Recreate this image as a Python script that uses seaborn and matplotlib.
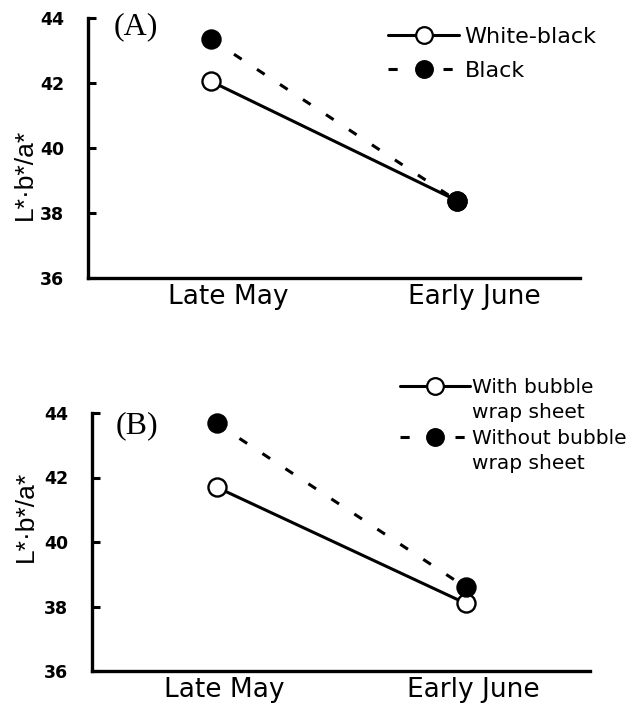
import matplotlib
matplotlib.use("Agg")
import matplotlib.pyplot as plt
import matplotlib.transforms as mtransforms
from matplotlib.lines import Line2D
import seaborn as sns
import pandas as pd

# ---- data ----
periods = ["Late May", "Early June"]
a_series = ["White-black", "Black"]
a_white_black = [42.05, 38.38]
a_black = [43.35, 38.38]
b_series = ["With bubble\nwrap sheet", "Without bubble\nwrap sheet"]
b_with = [41.7, 38.1]
b_without = [43.68, 38.6]
y_ticks = [36, 38, 40, 42, 44]

sns.set_theme(style="white")
plt.rcParams["font.family"] = ["DejaVu Sans"]
for k in ["text.color", "axes.labelcolor", "xtick.color", "ytick.color", "axes.edgecolor"]:
    plt.rcParams[k] = "black"

LW = 2.2
MS = 13
DASH = (0, (3, 6))

fig = plt.figure(figsize=(6.31, 7.07), dpi=100)
W, H = 631, 707

def add_ax(l, r, t, b):
    return fig.add_axes([l / W, 1 - b / H, (r - l) / W, (b - t) / H])

axA = add_ax(88, 580, 18, 278)
axB = add_ax(92, 590, 413, 671)

def draw(ax, vals_open, vals_filled):
    x = list(range(len(periods)))
    d1 = pd.DataFrame({"pos": x, "val": vals_open})
    d2 = pd.DataFrame({"pos": x, "val": vals_filled})
    sns.lineplot(data=d1, x="pos", y="val", ax=ax, color="black", lw=LW,
                 marker="o", markersize=MS, legend=False, zorder=3)
    l1 = ax.lines[-1]
    l1.set_markerfacecolor("white"); l1.set_markeredgecolor("black")
    l1.set_markeredgewidth(1.7)
    sns.lineplot(data=d2, x="pos", y="val", ax=ax, color="black", lw=LW,
                 marker="o", markersize=MS, legend=False, zorder=4)
    l2 = ax.lines[-1]
    l2.set_linestyle(DASH)
    l2.set_markerfacecolor("black"); l2.set_markeredgecolor("black")
    l2.set_markeredgewidth(1.7)

def style(ax, xoff_px, ylab_y, ylab_x):
    ax.set_xlim(-0.5, 1.5)
    ax.set_ylim(36, 44)
    ax.set_yticks(y_ticks)
    ax.set_yticklabels([str(v) for v in y_ticks], fontsize=12.5, fontweight="bold")
    ax.set_xticks(range(len(periods)))
    ax.set_xticklabels(periods, fontsize=19)
    ax.set_xticks([0.5, 1.5], minor=True)
    ax.tick_params(axis="x", which="major", length=0, pad=4)
    ax.tick_params(axis="x", which="minor", direction="in", length=7, width=2.2,
                   color="black")
    ax.tick_params(axis="y", which="major", direction="in", length=6, width=2.2,
                   pad=17, color="black", left=True)
    for s in ["top", "right"]:
        ax.spines[s].set_visible(False)
    for s in ["left", "bottom"]:
        ax.spines[s].set_linewidth(2.4)
        ax.spines[s].set_color("black")
    ax.set_xlabel("")
    ax.set_ylabel("L*·b*/a*", fontsize=19,
                  family=["Liberation Sans", "DejaVu Sans"])
    ax.yaxis.set_label_coords(ylab_x, ylab_y)
    off = mtransforms.ScaledTranslation(xoff_px / 100, 0, fig.dpi_scale_trans)
    for lab in ax.get_xticklabels():
        lab.set_transform(lab.get_transform() + off)
    ax.grid(False)

draw(axA, a_white_black, a_black)
style(axA, 17, 0.40, -0.104)
axA.text(0.098, 0.965, "(A)", transform=axA.transAxes, ha="center", va="center",
         fontsize=23, family=["Liberation Serif", "DejaVu Serif"])

draw(axB, b_with, b_without)
style(axB, 8, 0.60, -0.108)
axB.text(0.09, 0.95, "(B)", transform=axB.transAxes, ha="center", va="center",
         fontsize=23, family=["Liberation Serif", "DejaVu Serif"])

def h_open():
    return Line2D([0], [0], color="black", lw=LW, marker="o", ms=MS - 1,
                  mfc="white", mec="black", mew=1.6)

def h_filled():
    return Line2D([0], [0], color="black", lw=LW, marker="o", ms=MS - 1,
                  mfc="black", mec="black", mew=1.6, linestyle=DASH)

def h_blank():
    return Line2D([], [], linestyle="none", marker=None)

legA = axA.legend([h_open(), h_filled()], a_series, loc="upper left",
                  bbox_to_anchor=(388 / W, 1 - 27 / H), bbox_transform=fig.transFigure,
                  frameon=False, fontsize=16, borderpad=0, borderaxespad=0,
                  handlelength=3.2, handletextpad=0.25, labelspacing=0.62)

b_labels = []
for s in b_series:
    b_labels.extend(s.split("\n"))
legB = axB.legend([h_open(), h_blank(), h_filled(), h_blank()], b_labels,
                  loc="upper left", bbox_to_anchor=(400 / W, 1 - 378 / H),
                  bbox_transform=fig.transFigure, frameon=False, fontsize=14.5,
                  borderpad=0, borderaxespad=0, handlelength=3.5,
                  handletextpad=0.1, labelspacing=0.32)

fig.savefig("out.png", dpi=100)
